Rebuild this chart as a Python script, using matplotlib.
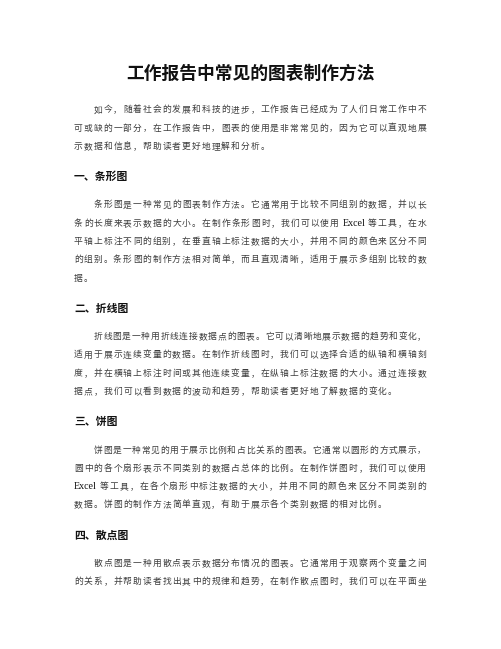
import matplotlib
matplotlib.use("Agg")
import matplotlib.pyplot as plt

title = "工作报告中常见的图表制作方法"

intro_lines = [
    "如今，随着社会的发展和科技的进步，工作报告已经成为了人们日常工作中不",
    "可或缺的一部分，在工作报告中，图表的使用是非常常见的，因为它可以直观地展",
    "示数据和信息，帮助读者更好地理解和分析。",
]

bar_heading = "一、条形图"
bar_lines = [
    "条形图是一种常见的图表制作方法。它通常用于比较不同组别的数据，并以长",
    "条的长度来表示数据的大小。在制作条形图时，我们可以使用 Excel 等工具，在水",
    "平轴上标注不同的组别，在垂直轴上标注数据的大小，并用不同的颜色来区分不同",
    "的组别。条形图的制作方法相对简单，而且直观清晰，适用于展示多组别比较的数",
    "据。",
]

line_heading = "二、折线图"
line_lines = [
    "折线图是一种用折线连接数据点的图表。它可以清晰地展示数据的趋势和变化，",
    "适用于展示连续变量的数据。在制作折线图时，我们可以选择合适的纵轴和横轴刻",
    "度，并在横轴上标注时间或其他连续变量，在纵轴上标注数据的大小。通过连接数",
    "据点，我们可以看到数据的波动和趋势，帮助读者更好地了解数据的变化。",
]

pie_heading = "三、饼图"
pie_lines = [
    "饼图是一种常见的用于展示比例和占比关系的图表。它通常以圆形的方式展示，",
    "圆中的各个扇形表示不同类别的数据占总体的比例。在制作饼图时，我们可以使用",
    "Excel 等工具，在各个扇形中标注数据的大小，并用不同的颜色来区分不同类别的",
    "数据。饼图的制作方法简单直观，有助于展示各个类别数据的相对比例。",
]

scatter_heading = "四、散点图"
scatter_lines = [
    "散点图是一种用散点表示数据分布情况的图表。它通常用于观察两个变量之间",
    "的关系，并帮助读者找出其中的规律和趋势，在制作散点图时，我们可以在平面坐",
]

# the last paragraph runs off the page, so its last line is still justified
sections = [
    (None, intro_lines, False),
    (bar_heading, bar_lines, False),
    (line_heading, line_lines, False),
    (pie_heading, pie_lines, False),
    (scatter_heading, scatter_lines, True),
]

W, H = 502, 649
LEFT, RIGHT = 74, 427
PITCH = (RIGHT - LEFT) / 36
STEP = 18.3
BODY = "#3c3c3c"
CJK = ["Noto Sans CJK SC", "DejaVu Sans"]

fig = plt.figure(figsize=(W / 100, H / 100), dpi=100)
ax = fig.add_axes([0, 0, 1, 1])
ax.set_xlim(0, W)
ax.set_ylim(H, 0)
ax.axis("off")


def tokens(line):
    out = []
    word = ""
    for ch in line:
        if ch.isascii() and ch != " ":
            word += ch
            continue
        if word:
            out.append(word)
            word = ""
        out.append(ch)
    if word:
        out.append(word)
    return out


def width(tok):
    if tok == " ":
        return 0.3
    if tok.isascii():
        return len(tok) * 0.46
    return 1.0


def draw_line(line, y, indent, justify):
    toks = tokens(line)
    x0 = LEFT + (2 * PITCH if indent else 0)
    natural = sum(width(t) for t in toks) * PITCH
    gap = 0
    if justify and len(toks) > 1:
        gap = (RIGHT - x0 - natural) / (len(toks) - 1)
    x = x0
    for t in toks:
        if t != " ":
            if t.isascii():
                ax.text(x, y + 3.4, t, family="Liberation Serif", fontsize=7.2,
                        color="#111111", va="baseline", ha="left")
            else:
                ax.text(x, y + 3.3, t, family=CJK, fontsize=6.3,
                        color=BODY, va="baseline", ha="left")
        x += width(t) * PITCH + gap


ax.text(W / 2, 72 + 6.8, title, family=CJK, fontsize=12.8, weight="bold",
        color="#111111", ha="center", va="baseline")

y = 109
for heading, lines, open_end in sections:
    if heading:
        y += 30.5
        ax.text(LEFT, y + 4.0, heading, family=CJK, fontsize=7.8, weight="bold",
                color="#111111", ha="left", va="baseline")
        y += 28
    for i, line in enumerate(lines):
        last = i == len(lines) - 1
        draw_line(line, y, i == 0, open_end or not last)
        if not last:
            y += STEP

fig.savefig("out.png", dpi=100, facecolor="white")
